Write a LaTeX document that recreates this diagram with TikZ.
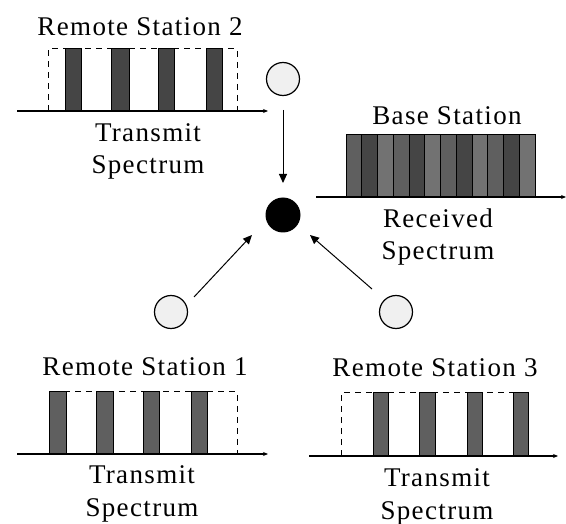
\documentclass[tikz,border=0pt]{standalone}
\usepackage{fontspec}
\newfontfamily\lblfont[LetterSpace=5]{Liberation Serif}
\usetikzlibrary{arrows.meta}
\definecolor{bardark}{HTML}{454545}
\definecolor{barmid}{HTML}{5F5F5F}
\definecolor{barlight}{HTML}{727272}
\definecolor{stn}{HTML}{F0F0F0}
\tikzset{
  lbl/.style={font=\lblfont\fontsize{27}{30}\selectfont, inner sep=0pt, anchor=center},
  axis/.style={line width=1.2pt, -{Stealth[length=5pt,width=4pt]}},
  dbox/.style={dashed, line width=1pt, dash pattern=on 6pt off 5pt},
  bar/.style={draw=black, line width=1pt},
  station/.style={circle, draw=black, line width=1.2pt, fill=stn, minimum size=33pt, inner sep=0pt},
  base/.style={circle, fill=black, minimum size=35pt, inner sep=0pt},
  link/.style={line width=1pt, -{Triangle[length=9pt,width=8pt]}}
}
\begin{document}
\begin{tikzpicture}[x=1pt,y=-1pt]
\useasboundingbox (0,0) rectangle (566,524);

% ---------- Remote Station 2 ----------
\node[lbl] (t2) at (140,27) {Remote Station 2};
\draw[dbox] (48,111) -- (48,49) -- (237,49) -- (237,111);
\foreach \a/\b in {65/81,111/129,158/174,206/222}
  \draw[bar, fill=bardark] (\a,111) rectangle (\b,49);
\coordinate (a2s) at (17,111);
\coordinate (a2e) at (268,111);
\draw[axis] (a2s) -- (a2e);
\node[lbl] (tr2) at (148,133) {Transmit};
\node[lbl] (sp2) at (148,167) {Spectrum};

% ---------- Base Station ----------
\node[lbl] (tb) at (447,116) {Base Station};
\foreach \i/\c in {0/barmid,1/bardark,2/barlight,3/barmid,4/bardark,5/barlight,6/barmid,7/bardark,8/barlight,9/barmid,10/bardark,11/barlight}
  \draw[bar, fill=\c] ({346+\i*15.75},197) rectangle ({346+(\i+1)*15.75},135);
\coordinate (abs) at (316,197);
\coordinate (abe) at (566,197);
\draw[axis] (abs) -- (abe);
\node[lbl] (rcv) at (438,218) {Received};
\node[lbl] (spb) at (438,253) {Spectrum};

% ---------- Remote Station 1 ----------
\node[lbl] (t1) at (145,367) {Remote Station 1};
\draw[dbox] (49,454) -- (49,392) -- (237,392) -- (237,454);
\foreach \a/\b in {49/66,96/113,143/159,191/207}
  \draw[bar, fill=barmid] (\a,454) rectangle (\b,392);
\coordinate (a1s) at (17,454);
\coordinate (a1e) at (268,454);
\draw[axis] (a1s) -- (a1e);
\node[lbl] (tr1) at (142,475) {Transmit};
\node[lbl] (sp1) at (142,510) {Spectrum};

% ---------- Remote Station 3 ----------
\node[lbl] (t3) at (435,368) {Remote Station 3};
\draw[dbox] (341,456) -- (341,393) -- (528,393) -- (528,456);
\foreach \a/\b in {373/388,419/435,467/482,513/528}
  \draw[bar, fill=barmid] (\a,456) rectangle (\b,393);
\coordinate (a3s) at (309,456);
\coordinate (a3e) at (558,456);
\draw[axis] (a3s) -- (a3e);
\node[lbl] (tr3) at (437,478) {Transmit};
\node[lbl] (sp3) at (437,513) {Spectrum};

% ---------- Stations and links ----------
\node[station] (s2) at (283,79) {};
\node[station] (s1) at (171,312) {};
\node[station] (s3) at (396,312) {};
\node[base] (bs) at (283,215) {};

\draw[link] (s2) ++(0,31) -- ++(0,73);
\draw[link] (s1) ++(23,-15) -- (252,235);
\draw[link] (s3) ++(-24,-23) -- (310,235);
\end{tikzpicture}
\end{document}
